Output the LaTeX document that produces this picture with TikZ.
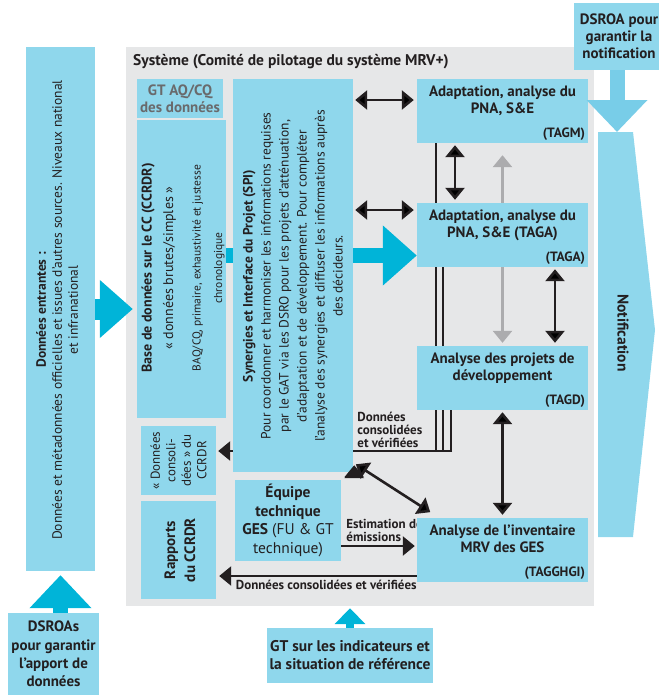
\documentclass[tikz,border=0pt]{standalone}
\usepackage{fontspec}
\setmainfont{PT Sans}
\usetikzlibrary{arrows.meta,positioning,backgrounds}

\definecolor{boxblue}{RGB}{143,215,236}
\definecolor{cyanarr}{RGB}{0,180,216}
\definecolor{lightarr}{RGB}{120,205,232}
\definecolor{sysgray}{RGB}{230,231,232}
\definecolor{arrgray}{RGB}{172,172,174}
\definecolor{gtgray}{RGB}{105,106,108}
\definecolor{ink}{RGB}{35,31,32}

\newcommand{\smf}{\fontsize{11.5}{16}\selectfont}

\begin{document}
\begin{tikzpicture}[x=1pt, y=-1pt, text=ink,
    box/.style={fill=boxblue, inner sep=0pt},
    hd/.style={font=\bfseries\fontsize{15}{17}\selectfont, align=center, inner sep=0pt},
    txt/.style={font=\fontsize{13.5}{18}\selectfont, align=center, inner sep=0pt},
    tag/.style={font=\bfseries\fontsize{13.5}{15}\selectfont, inner sep=0pt},
    lbl/.style={font=\bfseries\fontsize{13}{13}\selectfont, align=left, inner sep=0pt},
    dbl/.style={draw=ink, line width=2.6pt, {Triangle[width=19pt,length=12pt]}-{Triangle[width=19pt,length=12pt]}},
    sarr/.style={draw=ink, line width=2.6pt, -{Triangle[width=19pt,length=12pt]}},
    grayarr/.style={draw=arrgray, line width=2.6pt, -{Triangle[width=19pt,length=12pt]}},
    thinl/.style={draw=ink, line width=2pt},
    bigarr/.style={draw=cyanarr, line width=15pt}]

\useasboundingbox (0,0) rectangle (659,697);

% input and system frame
\node[box, minimum width=69pt, minimum height=524pt] (entree) at (60.5,309) {};
\node[txt, rotate=90, font=\fontsize{13.5}{16}\selectfont] (entreet) at (57,310)
    {\textbf{Données entrantes :}\\Données et métadonnées officielles et issues d'autres sources. Niveaux national\\et infranational};
\node[hd, anchor=west, font=\bfseries\fontsize{15.5}{17}\selectfont] (systitle) at (133,62) {Système (Comité de pilotage du système MRV+)};

% left column
\node[box, hd, text=gtgray, minimum width=86pt, minimum height=39pt] (gtaq) at (180,98.5) {GT AQ/CQ\\des données};
\node[box, minimum width=89pt, minimum height=298pt] (bdd) at (181.5,269) {};
\node[txt, rotate=90, font=\fontsize{14}{21.5}\selectfont] (bddt) at (183,268)
    {\textbf{Base de données sur le CC (CCRDR)}\\« données brutes/simples »\\[6pt]{\smf BAQ/CQ, primaire, exhaustivité et justesse}\\{\smf chronologique}};
\node[box, minimum width=75pt, minimum height=69pt] (cons) at (178.5,460.5) {};
\node[txt, rotate=90, font=\fontsize{13}{15.5}\selectfont] (const) at (cons) {« Données\\consoli-\\dées » du\\CCRDR};
\node[box, minimum width=75pt, minimum height=98pt] (rap) at (178.5,550) {};
\node[hd, rotate=90, font=\bfseries\fontsize{15}{20}\selectfont] (rapt) at (180,550) {Rapports\\du CCRDR};

% SPI and GES team
\node[box, minimum width=120pt, minimum height=393pt] (spi) at (293,275.5) {};
\node[txt, rotate=90] (spit) at (293,276)
    {\textbf{Synergies et Interface du Projet (SPI)}\\Pour coordonner et harmoniser les informations requises\\par le GAT via les DSRO pour les projets d'atténuation,\\d'adaptation et de développement. Pour compléter\\l'analyse des synergies et diffuser les informations auprès\\des décideurs.};
\node[box, txt, font=\fontsize{15.5}{18.6}\selectfont, minimum width=106pt, minimum height=81pt] (equipe) at (288,520.5)
    {\textbf{Équipe}\\\textbf{technique}\\\textbf{GES} (FU \& GT\\technique)};
\coordinate (eqa) at ([yshift=-25.5pt]equipe.east);
\node[lbl, anchor=south west] (estl) at ([xshift=5pt,yshift=4pt]eqa) {Estimation des\\émissions};

% thematic groups
\node[box, minimum width=171pt, minimum height=64pt] (tagm) at (502.5,111) {};
\node[hd, below=7pt of tagm.north] (tagmt) {Adaptation, analyse du\\PNA, S\&E};
\node[tag, above left=3pt and 3pt of tagm.south east] (tagml) {(TAGM)};
\node[box, minimum width=171pt, minimum height=64pt] (taga) at (502.5,235) {};
\node[hd, below=7pt of taga.north] (tagat) {Adaptation, analyse du\\PNA, S\&E (TAGA)};
\node[tag, above left=3pt and 3pt of taga.south east] (tagal) {(TAGA)};
\node[box, minimum width=171pt, minimum height=64pt] (tagd) at (502.5,378) {};
\node[hd, below=7pt of tagd.north] (tagdt) {Analyse des projets de\\développement};
\node[tag, above left=3pt and 3pt of tagd.south east] (tagdl) {(TAGD)};
\node[box, minimum width=171pt, minimum height=64pt] (tagg) at (502.5,550) {};
\node[hd, below=7pt of tagg.north] (taggt) {Analyse de l’inventaire\\MRV des GES};
\node[tag, above left=3pt and 3pt of tagg.south east] (taggl) {(TAGGHGI)};

% outside actors
\node[box, hd, font=\bfseries\fontsize{15}{18.3}\selectfont, minimum width=91pt, minimum height=82pt] (dsroas) at (53.5,654)
    {DSROAs\\pour garantir\\l’apport de\\données};
\node[box, hd, font=\bfseries\fontsize{15.5}{18}\selectfont, minimum width=166pt, minimum height=55pt] (gtind) at (350,655.5)
    {GT sur les indicateurs et\\la situation de référence};
\node[box, hd, font=\bfseries\fontsize{15}{17}\selectfont, minimum width=90pt, minimum height=67pt] (dsroa) at (619,36.5)
    {DSROA pour\\garantir la\\notification};
\fill[boxblue] (598,132) -- (633,132) -- (655,330) -- (633,537) -- (598,537) -- cycle;
\coordinate (ntop) at (617,132);
\node[hd, rotate=-90, font=\bfseries\fontsize{15.5}{17}\selectfont] (notif) at (623,333) {Notification};

\coordinate (cv) at (452,451);
\begin{scope}[on background layer]
  \node[fill=sysgray, minimum width=468pt, minimum height=559pt, inner sep=0pt] (sys) at (360,326.5) {};
  \draw[bigarr, -{Triangle[width=58pt,length=34pt]}] ([yshift=-20.5pt]taga.west -| bdd.east) -- ([yshift=-20.5pt]taga.west);
  \draw[thinl] ([xshift=-66.5pt]tagm.south) -- ([xshift=-66.5pt]tagm.south |- cv);
  \draw[thinl] ([xshift=-59.5pt]taga.south) -- ([xshift=-59.5pt]taga.south |- cv);
  \draw[thinl] ([xshift=-51.5pt]tagd.south) -- ([xshift=-51.5pt]tagd.south |- cv);
  \draw[thinl] (cv) -- (spi.east |- cv);
\end{scope}
\node[lbl, anchor=south west] (consl) at ([xshift=4pt,yshift=3pt]spi.east |- cv) {Données\\consolidées\\et vérifiées};

% big arrows
\draw[bigarr, line width=21pt, shorten >=4pt, -{Triangle[width=56pt,length=33pt]}] (entree.east) -- (entree.east -| bdd.west);
\draw[bigarr, shorten >=4pt, -{Triangle[width=60pt,length=33pt]}] (dsroas.north -| entree.south) -- (entree.south);
\draw[bigarr, line width=8pt, shorten >=2pt, -{Triangle[width=30pt,length=16pt]}] (gtind.north) -- (gtind.north |- sys.south);
\draw[bigarr, draw=lightarr, -{Triangle[width=59pt,length=32pt]}] (dsroa.south -| ntop) -- (ntop);

% links
\path[dbl, shorten <=2pt, shorten >=3pt]
    ([yshift=11pt]tagm.west -| spi.east) edge ([yshift=11pt]tagm.west)
    ([yshift=25pt]taga.west -| spi.east) edge ([yshift=25pt]taga.west)
    ([xshift=-47.5pt]tagm.south) edge ([xshift=-47.5pt]taga.north)
    ([xshift=52.5pt]taga.south) edge ([xshift=52.5pt]tagd.north)
    (tagd.south) edge (tagg.north)
    ([xshift=1pt,yshift=9pt]spi.south east) edge ([xshift=16pt,yshift=4pt]tagg.north west);
\draw[grayarr] (taga.north) -- ([yshift=-12pt]tagm.south);
\draw[grayarr, shorten >=3pt] (taga.south) -- (tagd.north);
\draw[sarr, shorten >=2pt] (spi.west |- cv) -- (cv -| cons.east);
\draw[sarr, shorten >=2pt] (eqa) -- (eqa -| tagg.west);
\draw[sarr, shorten >=3pt] ([yshift=-26pt]tagg.west) -- ([yshift=-26pt]tagg.west -| rap.east);
\node[lbl, anchor=north east] (consl3) at ([yshift=-30pt]tagg.west) {Données consolidées et vérifiées};
\end{tikzpicture}
\end{document}
